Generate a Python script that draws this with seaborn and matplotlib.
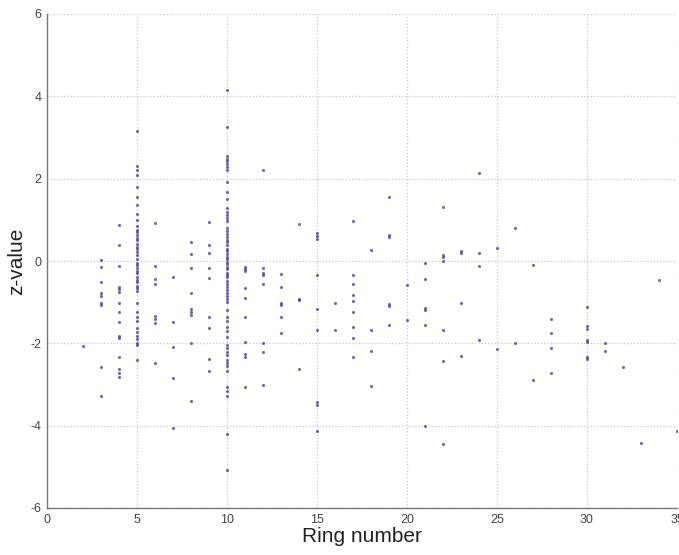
import pandas as pd
import matplotlib
matplotlib.use("Agg")
import matplotlib.pyplot as plt
import seaborn as sns

# z-values per ring number
z_ring02 = [-2.06]
z_ring03 = [0.02, -0.15, -0.5, -0.78, -0.85, -1.02, -1.08, -2.58, -3.28]
z_ring04 = [0.87, 0.39, -0.12, -0.62, -0.68, -0.75, -1.02, -1.23, -1.48,
            -1.82, -1.88, -2.32, -2.62, -2.72, -2.82]
z_ring05 = [3.15, 2.3, 2.2, 2.1, 1.8, 1.55, 1.35, 1.15, 1.0, 0.85, 0.75, 0.7,
            0.62, 0.55, 0.5, 0.42, 0.35, 0.3, 0.22, 0.15, 0.05, -0.05, -0.1,
            -0.18, -0.25, -0.3, -0.38, -0.45, -0.52, -0.6, -0.65, -0.72,
            -1.02, -1.25, -1.35, -1.45, -1.62, -1.72, -1.82, -1.9, -1.98,
            -2.05, -2.4]
z_ring06 = [0.92, -0.13, -0.44, -0.55, -1.33, -1.42, -1.5, -2.47]
z_ring07 = [-0.38, -1.47, -2.08, -2.85, -4.05]
z_ring08 = [0.45, 0.16, -0.18, -0.77, -1.17, -1.23, -1.3, -2.0, -3.41]
z_ring09 = [0.95, 0.39, 0.19, -0.18, -0.42, -1.35, -1.63, -2.39, -2.66]
z_ring10 = [4.15, 3.25, 2.55, 2.48, 2.42, 2.35, 2.28, 2.22, 1.92, 1.68, 1.5,
            1.28, 1.2, 1.12, 1.05, 0.97, 0.8, 0.72, 0.65, 0.58, 0.5, 0.45,
            0.38, 0.3, 0.25, 0.18, 0.1, 0.05, -0.02, -0.08, -0.15, -0.2,
            -0.28, -0.35, -0.4, -0.48, -0.55, -0.62, -0.7, -0.78, -0.85,
            -0.92, -1.0, -1.2, -1.35, -1.45, -1.6, -1.7, -1.85, -2.05, -2.12,
            -2.2, -2.28, -2.4, -2.48, -2.55, -2.68, -3.05, -3.15, -3.28,
            -4.2, -5.08]
z_ring11 = [-0.15, -0.2, -0.25, -0.66, -0.91, -1.37, -1.96, -2.25, -2.33, -3.05]
z_ring12 = [2.21, -0.18, -0.28, -0.34, -0.57, -1.98, -2.22, -3.01]
z_ring13 = [-0.31, -0.64, -1.02, -1.08, -1.35, -1.74]
z_ring14 = [0.9, -0.92, -0.95, -2.63]
z_ring15 = [0.67, 0.6, 0.53, -0.34, -1.17, -1.68, -3.42, -3.5, -4.14]
z_ring16 = [-1.03, -1.68]
z_ring17 = [0.98, -0.33, -0.57, -0.82, -0.96, -1.23, -1.6, -1.88, -2.33]
z_ring18 = [0.27, -1.67, -2.19, -3.03]
z_ring19 = [1.56, 0.63, 0.58, -1.04, -1.09, -1.55]
z_ring20 = [-0.59, -1.43]
z_ring21 = [-0.06, -0.43, -1.15, -1.2, -1.55, -4.0]
z_ring22 = [1.32, 0.15, 0.1, 0.01, -1.67, -2.44, -4.45]
z_ring23 = [0.24, 0.19, -1.03, -2.31]
z_ring24 = [2.14, 0.19, -0.12, -1.93]
z_ring25 = [0.31, -2.14]
z_ring26 = [0.79, -2.0]
z_ring27 = [-0.1, -2.9]
z_ring28 = [-1.42, -1.74, -2.12, -2.71]
z_ring30 = [-1.11, -1.58, -1.64, -1.92, -1.97, -2.32, -2.39]
z_ring31 = [-2.0, -2.18]
z_ring32 = [-2.58]
z_ring33 = [-4.41]
z_ring34 = [-0.46]
z_ring35 = [-4.14]

rings = [2, 3, 4, 5, 6, 7, 8, 9, 10, 11, 12, 13, 14, 15, 16, 17, 18, 19, 20,
         21, 22, 23, 24, 25, 26, 27, 28, 30, 31, 32, 33, 34, 35]
z_lists = [z_ring02, z_ring03, z_ring04, z_ring05, z_ring06, z_ring07,
           z_ring08, z_ring09, z_ring10, z_ring11, z_ring12, z_ring13,
           z_ring14, z_ring15, z_ring16, z_ring17, z_ring18, z_ring19,
           z_ring20, z_ring21, z_ring22, z_ring23, z_ring24, z_ring25,
           z_ring26, z_ring27, z_ring28, z_ring30, z_ring31, z_ring32,
           z_ring33, z_ring34, z_ring35]

x_ticks = [0, 5, 10, 15, 20, 25, 30, 35]
y_ticks = [-6, -4, -2, 0, 2, 4, 6]

# long table: one row per point
df = pd.concat([pd.DataFrame({"ring": r, "z": zs}) for r, zs in zip(rings, z_lists)],
               ignore_index=True)

sns.set_style("white")
plt.rcParams['font.family'] = ['Liberation Sans', 'DejaVu Sans']
plt.rcParams['axes.unicode_minus'] = False

fig = plt.figure(figsize=(6.79, 5.55), dpi=100)
ax = fig.add_axes([47 / 679, 47 / 555, 630 / 679, 494 / 555])

sns.scatterplot(data=df, x="ring", y="z", ax=ax, color="#3535b5",
                s=5, linewidth=0, alpha=0.75)

ax.set_xlim(0, 35)
ax.set_ylim(-6, 6)
ax.set_xticks(x_ticks)
ax.set_yticks(y_ticks)
ax.grid(True, linestyle=":", color="#c8c8c8", linewidth=0.9)
ax.set_axisbelow(True)

for side in ["top", "right"]:
    ax.spines[side].set_visible(False)
for side in ["left", "bottom"]:
    ax.spines[side].set_color("#777777")
    ax.spines[side].set_linewidth(1.0)

ax.tick_params(direction="in", length=4, width=0.8, color="#777777",
               labelsize=9, labelcolor="#444444", pad=4)

ax.set_xlabel("Ring number", fontsize=15, color="#222222", labelpad=1)
ax.set_ylabel("z-value", fontsize=15, color="#222222", labelpad=3)

fig.savefig("out.png", dpi=100)
